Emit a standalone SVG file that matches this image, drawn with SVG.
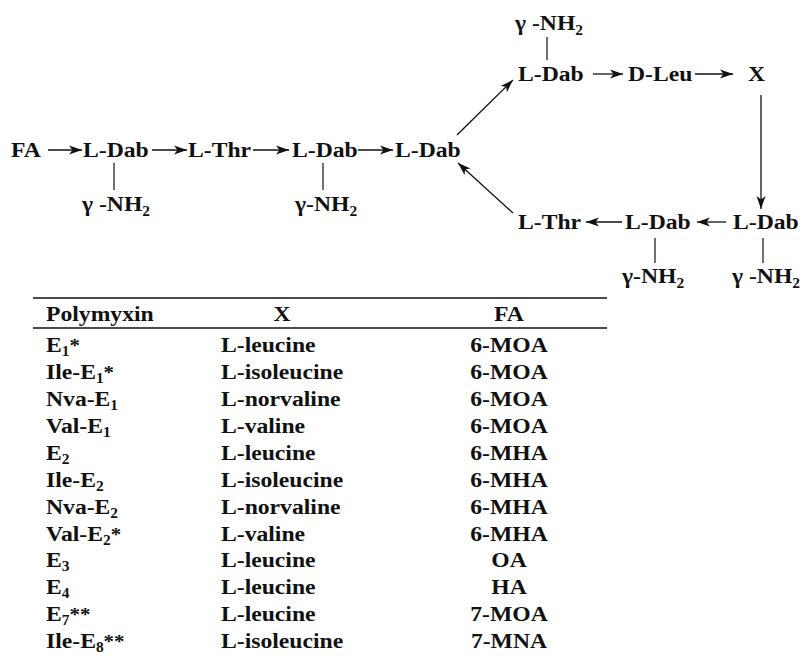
<svg xmlns="http://www.w3.org/2000/svg" width="802" height="660" viewBox="0 0 802 660">
<defs>
<style>
text{font-family:"Liberation Serif","Times New Roman",serif;font-weight:bold;font-size:21.5px;fill:#111}
.sub{font-size:14px}
.ast{font-size:19px}
.c{text-anchor:middle}
.ln{stroke:#111;stroke-width:1.2;fill:none}
.ar{stroke:#111;stroke-width:1.3;fill:none;marker-end:url(#ah)}
.rule{stroke:#111;stroke-width:1.4}
</style>
<marker id="ah" markerUnits="userSpaceOnUse" markerWidth="14" markerHeight="10" refX="13" refY="5" orient="auto">
<path d="M0,0.5 L13,5 L0,9.5 L3.5,5 Z" fill="#111"/>
</marker>
</defs>
<rect width="802" height="660" fill="#fff"/>

<g id="connectors">
<line class="ar" x1="48" y1="150" x2="82" y2="150"/>
<line class="ar" x1="152" y1="150" x2="187" y2="150"/>
<line class="ar" x1="253" y1="150" x2="289" y2="150"/>
<line class="ar" x1="358" y1="150" x2="393" y2="150"/>
<line class="ar" x1="457" y1="135" x2="513" y2="80"/>
<line class="ar" x1="593" y1="74" x2="623" y2="74"/>
<line class="ar" x1="695" y1="74" x2="733" y2="74"/>
<line class="ar" x1="761" y1="95" x2="761" y2="209"/>
<line class="ar" x1="726" y1="222" x2="697" y2="222"/>
<line class="ar" x1="622" y1="222" x2="586" y2="222"/>
<line class="ar" x1="513" y1="213" x2="458" y2="163"/>
<line class="ln" x1="114" y1="163" x2="114" y2="190"/>
<line class="ln" x1="323" y1="163" x2="323" y2="190"/>
<line class="ln" x1="547" y1="37" x2="547" y2="60"/>
<line class="ln" x1="655" y1="238" x2="655" y2="263"/>
<line class="ln" x1="763" y1="238" x2="763" y2="263"/>
</g>

<g id="fa"><text transform="translate(11,157) scale(1.1 1)">FA</text></g>
<g id="dab1">
<text transform="translate(83,157) scale(1.1 1)">L-Dab</text>
<text transform="translate(82,211) scale(1.1 1)">γ -NH<tspan class="sub" dy="5">2</tspan></text>
</g>
<g id="thr1"><text transform="translate(188,157) scale(1.1 1)">L-Thr</text></g>
<g id="dab2">
<text transform="translate(292,157) scale(1.1 1)">L-Dab</text>
<text transform="translate(295,211) scale(1.1 1)">γ-NH<tspan class="sub" dy="5">2</tspan></text>
</g>
<g id="dab3"><text transform="translate(395,157) scale(1.1 1)">L-Dab</text></g>
<g id="dab4">
<text transform="translate(518,81) scale(1.1 1)">L-Dab</text>
<text transform="translate(515,30) scale(1.1 1)">γ -NH<tspan class="sub" dy="5">2</tspan></text>
</g>
<g id="dleu"><text transform="translate(628,81) scale(1.1 1)">D-Leu</text></g>
<g id="x"><text transform="translate(748,81) scale(1.1 1)">X</text></g>
<g id="dab5">
<text transform="translate(733,229) scale(1.1 1)">L-Dab</text>
<text transform="translate(732,283) scale(1.1 1)">γ -NH<tspan class="sub" dy="5">2</tspan></text>
</g>
<g id="dab6">
<text transform="translate(625,229) scale(1.1 1)">L-Dab</text>
<text transform="translate(622,283) scale(1.1 1)">γ-NH<tspan class="sub" dy="5">2</tspan></text>
</g>
<g id="thr2"><text transform="translate(518,229) scale(1.1 1)">L-Thr</text></g>

<g id="table">
<line class="rule" x1="33" y1="298" x2="607" y2="298"/>
<line class="rule" x1="33" y1="328" x2="607" y2="328"/>
<text transform="translate(46,321) scale(1.1 1)">Polymyxin</text>
<text class="c" transform="translate(282,321) scale(1.1 1)">X</text>
<text class="c" transform="translate(509,321) scale(1.1 1)">FA</text>

<text transform="translate(46,352) scale(1.1 1)">E<tspan class="sub" dy="4">1</tspan><tspan class="ast" dy="-4">*</tspan></text>
<text transform="translate(221,352) scale(1.1 1)">L-leucine</text>
<text class="c" transform="translate(509,352) scale(1.1 1)">6-MOA</text>

<text transform="translate(46,379) scale(1.1 1)">Ile-E<tspan class="sub" dy="4">1</tspan><tspan class="ast" dy="-4">*</tspan></text>
<text transform="translate(221,379) scale(1.1 1)">L-isoleucine</text>
<text class="c" transform="translate(509,379) scale(1.1 1)">6-MOA</text>

<text transform="translate(46,406) scale(1.1 1)">Nva-E<tspan class="sub" dy="4">1</tspan></text>
<text transform="translate(221,406) scale(1.1 1)">L-norvaline</text>
<text class="c" transform="translate(509,406) scale(1.1 1)">6-MOA</text>

<text transform="translate(46,433) scale(1.1 1)">Val-E<tspan class="sub" dy="4">1</tspan></text>
<text transform="translate(221,433) scale(1.1 1)">L-valine</text>
<text class="c" transform="translate(509,433) scale(1.1 1)">6-MOA</text>

<text transform="translate(46,460) scale(1.1 1)">E<tspan class="sub" dy="4">2</tspan></text>
<text transform="translate(221,460) scale(1.1 1)">L-leucine</text>
<text class="c" transform="translate(509,460) scale(1.1 1)">6-MHA</text>

<text transform="translate(46,487) scale(1.1 1)">Ile-E<tspan class="sub" dy="4">2</tspan></text>
<text transform="translate(221,487) scale(1.1 1)">L-isoleucine</text>
<text class="c" transform="translate(509,487) scale(1.1 1)">6-MHA</text>

<text transform="translate(46,514) scale(1.1 1)">Nva-E<tspan class="sub" dy="4">2</tspan></text>
<text transform="translate(221,514) scale(1.1 1)">L-norvaline</text>
<text class="c" transform="translate(509,514) scale(1.1 1)">6-MHA</text>

<text transform="translate(46,541) scale(1.1 1)">Val-E<tspan class="sub" dy="4">2</tspan><tspan class="ast" dy="-4">*</tspan></text>
<text transform="translate(221,541) scale(1.1 1)">L-valine</text>
<text class="c" transform="translate(509,541) scale(1.1 1)">6-MHA</text>

<text transform="translate(46,567) scale(1.1 1)">E<tspan class="sub" dy="4">3</tspan></text>
<text transform="translate(221,567) scale(1.1 1)">L-leucine</text>
<text class="c" transform="translate(509,567) scale(1.1 1)">OA</text>

<text transform="translate(46,594) scale(1.1 1)">E<tspan class="sub" dy="4">4</tspan></text>
<text transform="translate(221,594) scale(1.1 1)">L-leucine</text>
<text class="c" transform="translate(509,594) scale(1.1 1)">HA</text>

<text transform="translate(46,621) scale(1.1 1)">E<tspan class="sub" dy="4">7</tspan><tspan class="ast" dy="-4">**</tspan></text>
<text transform="translate(221,621) scale(1.1 1)">L-leucine</text>
<text class="c" transform="translate(509,621) scale(1.1 1)">7-MOA</text>

<text transform="translate(46,648) scale(1.1 1)">Ile-E<tspan class="sub" dy="4">8</tspan><tspan class="ast" dy="-4">**</tspan></text>
<text transform="translate(221,648) scale(1.1 1)">L-isoleucine</text>
<text class="c" transform="translate(509,648) scale(1.1 1)">7-MNA</text>
</g>
</svg>
